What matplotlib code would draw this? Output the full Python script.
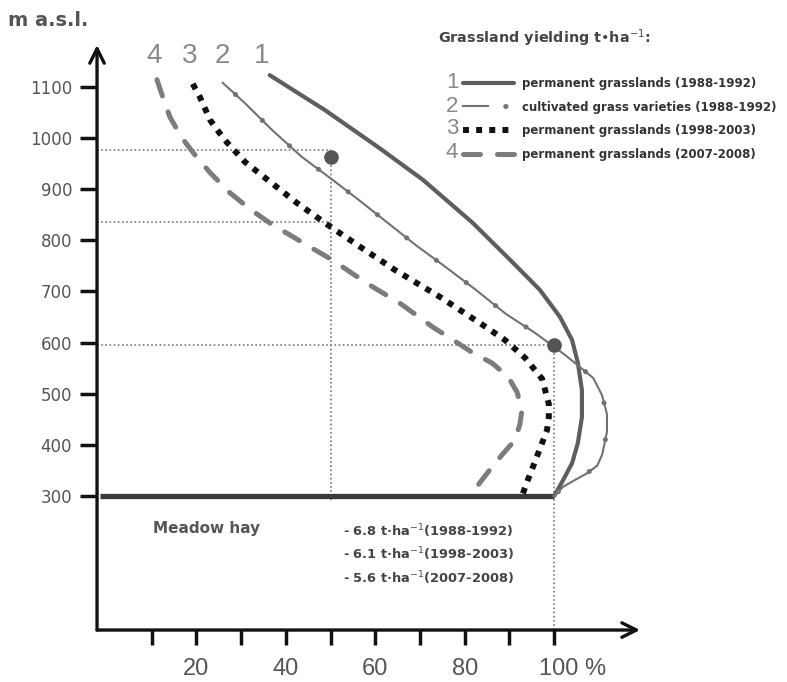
import matplotlib
matplotlib.use('Agg')
from matplotlib import pyplot as plt
import matplotlib.transforms as mtransforms
from matplotlib.legend_handler import HandlerTuple

plt.rcParams['font.family'] = ['DejaVu Sans']

# curve 1 - permanent grasslands (1988-1992)
x1 = [36.4, 48.7, 61.0, 70.7, 81.8, 90.8, 96.8, 101.3, 104.0, 105.3, 106.2, 106.2, 105.3, 104.0, 102.0, 100]
y1 = [1123, 1055, 980, 918, 834, 756, 703, 650, 605, 560, 507, 454, 404, 364, 331, 300]
# curve 2 - cultivated grass varieties (1988-1992)
x2 = [25.9, 30.9, 36.9, 43.6, 49.9, 56.3, 62.8, 69.3, 76.0, 82.5, 89.2, 95.7, 102.4, 108.7, 110.7,
      111.8, 111.8, 110.7, 109.6, 107.1, 104.6, 102.0, 100]
y2 = [1108, 1068, 1016, 963, 922, 879, 834, 789, 746, 703, 656, 619, 576, 531, 497,
      460, 425, 380, 359, 343, 331, 318, 300]
# curve 3 - permanent grasslands (1998-2003)
x3 = [19.2, 20.8, 23.1, 25.0, 26.8, 30.9, 35.4, 42.5, 49.4, 57.0, 64.4, 74.5, 84.1, 89.0, 93.5,
      97.3, 98.8, 98.8, 98.4, 96.1, 94.1, 92.8]
y3 = [1106, 1080, 1035, 1012, 992, 953, 922, 873, 830, 785, 742, 689, 634, 605, 570,
      529, 480, 454, 429, 376, 331, 300]
# curve 4 - permanent grasslands (2007-2008)
x4 = [11.2, 12.5, 14.1, 16.8, 19.7, 23.1, 27.5, 32.0, 36.4, 45.4, 50.5, 58.1, 65.5, 72.9, 77.4,
      81.6, 86.1, 89.7, 91.7, 92.8, 92.3, 91.2, 88.3, 85.6, 82.7, 81.2]
y4 = [1114, 1080, 1041, 1000, 967, 932, 893, 861, 834, 787, 761, 716, 677, 630, 605,
      581, 560, 533, 503, 468, 439, 409, 380, 351, 318, 300]

base_x = [-1.6, 100]
base_y = [300, 300]

marked_x = [50, 100]
marked_y = [963, 595]
ref_levels = [977, 836, 595]
ref_ends = [50, 50, 100]

labels = ['permanent grasslands (1988-1992)',
          'cultivated grass varieties (1988-1992)',
          'permanent grasslands (1998-2003)',
          'permanent grasslands (2007-2008)']
yields = ['- 6.8 t·ha$^{-1}$(1988-1992)',
          '- 6.1 t·ha$^{-1}$(1998-2003)',
          '- 5.6 t·ha$^{-1}$(2007-2008)']

y_ticks = [300, 400, 500, 600, 700, 800, 900, 1000, 1100]
x_ticks = [10, 20, 30, 40, 50, 60, 70, 80, 90, 100]
x_ticklabels = ['', '20', '', '40', '', '60', '', '80', '', '100 %']

fig = plt.figure(figsize=(7.87, 6.82), dpi=100)
ax = fig.add_axes([0.1233, 0.0762, 0.690, 0.8578])
ax.set_xlim(-2.2, 119.2)
ax.set_ylim(37.7, 1182)
for s in ax.spines.values():
    s.set_visible(False)

# axes drawn as arrows
arrow = dict(arrowstyle='->', lw=2.4, color='#111111', mutation_scale=26, shrinkA=0, shrinkB=0)
ax.annotate('', xy=(1, 0), xytext=(0, 0), xycoords='axes fraction', arrowprops=arrow)
ax.annotate('', xy=(0, 1), xytext=(0, 0), xycoords='axes fraction', arrowprops=arrow)

ax.set_yticks(y_ticks)
ax.set_yticklabels([str(v) for v in y_ticks])
ax.set_xticks(x_ticks)
ax.set_xticklabels(x_ticklabels, family='Liberation Sans')
ax.tick_params(axis='y', length=12, width=2.5, color='#111111', pad=6,
               labelsize=12, labelcolor='#555555')
ax.tick_params(axis='x', length=11, width=2.5, color='#111111', pad=9,
               labelsize=17, labelcolor='#555555')
lab100 = ax.get_xticklabels()[-1]
lab100.set_horizontalalignment('left')
lab100.set_transform(lab100.get_transform() + mtransforms.ScaledTranslation(-15 / 100, 0, fig.dpi_scale_trans))

# dotted guide lines
dot_style = dict(color='#777777', lw=1.2, linestyle=(0, (1, 1.5)))
for lev, end in zip(ref_levels, ref_ends):
    ax.plot([-2.2, end], [lev, lev], **dot_style)
ax.plot([marked_x[0], marked_x[0]], [marked_y[0], 292], **dot_style)
ax.plot([marked_x[1], marked_x[1]], [marked_y[1], 37.7], **dot_style)

# baseline
ax.plot(base_x, base_y, color='#3a3a3a', lw=3.8, solid_capstyle='butt')

# curves
l1, = ax.plot(x1, y1, color='#5e5e5e', lw=3.0, solid_capstyle='round', solid_joinstyle='round')
l2a, = ax.plot(x2, y2, color='#727272', lw=1.5, solid_joinstyle='round')
l2b, = ax.plot(x2, y2, color='#727272', lw=3.6, linestyle=(4, (0.05, 7.4)),
               dash_capstyle='round')
l3, = ax.plot(x3, y3, color='#111111', lw=4.3, linestyle=(0, (1, 1.2)), dash_capstyle='butt')
l4, = ax.plot(x4, y4, color='#7c7c7c', lw=3.6, linestyle=(0, (3.4, 3.4)),
              dash_capstyle='round', dash_joinstyle='round')

ax.plot(marked_x, marked_y, 'o', color='#555555', ms=9.5, zorder=5)

# curve numbers at the top
for num, xx in zip(['4', '3', '2', '1'], [10.5, 18.4, 25.9, 34.7]):
    ax.text(xx, 1160, num, fontsize=20, color='#8a8a8a', ha='center', va='center',
            family='Liberation Sans')

ax.text(10.3, 237, 'Meadow hay', fontsize=11, fontweight='bold', color='#555555', va='center')
for txt, yy in zip(yields, [231, 186, 139]):
    ax.text(52.8, yy, txt, fontsize=9.4, fontweight='bold', color='#444444', va='center')

fig.text(8 / 787, 1 - 21 / 682, 'm a.s.l.', fontsize=14, fontweight='bold', color='#555555',
         ha='left', va='center')

# legend
fig.text(438 / 787, 1 - 38 / 682, 'Grassland yielding t•ha$^{-1}$:', fontsize=10.4,
         fontweight='bold', color='#444444', ha='left', va='center')
leg = fig.legend([l1, (l2a, l2b), l3, l4], labels, loc='upper left',
                 bbox_to_anchor=(463 / 787, 1 - 77 / 682), frameon=False,
                 prop=dict(size=8.5, weight='bold'), handlelength=4.3, handletextpad=0.7,
                 labelspacing=0.9, borderpad=0, borderaxespad=0,
                 handler_map={tuple: HandlerTuple(ndivide=None)})
for t in leg.get_texts():
    t.set_color('#333333')
for num, py in zip(['1', '2', '3', '4'], [83, 106, 129, 152]):
    fig.text(452 / 787, 1 - py / 682, num, fontsize=16, color='#888888', ha='center', va='center',
             family='Liberation Sans')

fig.savefig('out.png', dpi=100)
